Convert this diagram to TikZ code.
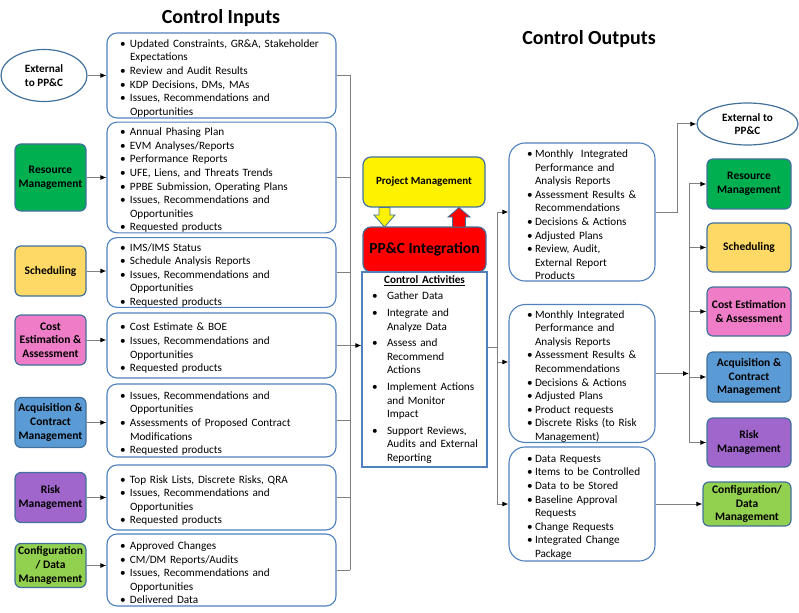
\documentclass[tikz,border=0pt]{standalone}
\usepackage{fontspec}
\setmainfont{Carlito}
\usetikzlibrary{arrows.meta,shapes.geometric}
\definecolor{bord}{HTML}{41719C}
\definecolor{lbord}{HTML}{4F81BD}
\definecolor{cres}{HTML}{00B050}
\definecolor{csch}{HTML}{FFD966}
\definecolor{ccost}{HTML}{EE7CC6}
\definecolor{cacq}{HTML}{5B9BD5}
\definecolor{crisk}{HTML}{A066CB}
\definecolor{ccfg}{HTML}{92D050}
\definecolor{lgray}{HTML}{808080}
\newlength\bulo
\newlength\bulw
\newcommand\itm[1]{\par\noindent\hangindent=\dimexpr\bulo+\bulw\relax\hangafter=1\hspace*{\bulo}\makebox[\bulw][l]{\textbullet}#1}
\newcommand\bodyfnt{\fontsize{11.2}{13.6}\selectfont}
\newcommand\lblfnt{\fontsize{11.5}{13.6}\selectfont\bfseries}
\begin{document}
\begin{tikzpicture}[x=1pt,y=-1pt,
  inbox/.style={draw=lbord, line width=1.1pt, rounded corners=10pt, fill=white,
    minimum width=229, text width=219, inner xsep=5, inner ysep=0, align=left, font=\bodyfnt,
    execute at begin node={\setlength\bulo{8pt}\setlength\bulw{10pt}}},
  outbox/.style={draw=lbord, line width=1.1pt, rounded corners=16pt, fill=white,
    minimum width=146, text width=122, inner xsep=12, inner ysep=0, align=left, font=\bodyfnt,
    execute at begin node={\setlength\bulo{6pt}\setlength\bulw{8pt}}},
  cabox/.style={draw=lbord, line width=1.1pt, fill=white,
    minimum width=125, text width=117, inner xsep=4, inner ysep=0, align=left, font=\bodyfnt,
    execute at begin node={\setlength\bulo{6pt}\setlength\bulw{15pt}\setlength\parskip{3pt}}},
  lbl/.style={draw=bord, line width=1.2pt, rounded corners=6pt, align=center, font=\lblfnt,
    inner sep=1pt},
  extn/.style={ellipse, draw=bord, line width=1.2pt, fill=white, align=center, inner sep=0pt,
    font=\fontsize{11.2}{13.6}\selectfont\bfseries},
  ln/.style={draw=lgray, line width=1pt},
  arr/.style={draw=lgray, line width=1pt, -{Latex[length=6pt,width=5pt,color=black]}}
]
\useasboundingbox (0,0) rectangle (799,612);

% titles
\node[font=\fontsize{20}{24}\selectfont\bfseries] (tin) at (221,18) {Control Inputs};
\node[font=\fontsize{20}{24}\selectfont\bfseries] (tout) at (589,39) {Control Outputs};

% left sources
\node[extn, minimum width=86, minimum height=52] (ext1) at (44,75.5) {External\\to PP\&C};
\node[lbl, fill=cres, minimum width=71, minimum height=67] (lres) at (50.5,177.5) {Resource\\Management};
\node[lbl, fill=csch, minimum width=71, minimum height=50] (lsch) at (50.5,271) {Scheduling};
\node[lbl, fill=ccost, minimum width=71, minimum height=50] (lcost) at (50.5,340) {Cost\\Estimation \&\\Assessment};
\node[lbl, fill=cacq, minimum width=71, minimum height=50] (lacq) at (50.5,422.5) {Acquisition \&\\Contract\\Management};
\node[lbl, fill=crisk, minimum width=71, minimum height=50] (lrisk) at (50.5,497.5) {Risk\\Management};
\node[lbl, fill=ccfg, minimum width=71, minimum height=44] (lcfg) at (50.5,565.5) {Configuration\\/ Data\\Management};

% input boxes
\node[inbox, minimum height=85] (i1) at (221.5,75.5) {%
\itm{Updated Constraints, GR\&A, Stakeholder\newline Expectations}
\itm{Review and Audit Results}
\itm{KDP Decisions, DMs, MAs}
\itm{Issues, Recommendations and\newline Opportunities}\par};
\node[inbox, minimum height=109] (i2) at (221.5,177.5) {%
\itm{Annual Phasing Plan}
\itm{EVM Analyses/Reports}
\itm{Performance Reports}
\itm{UFE, Liens, and Threats Trends}
\itm{PPBE Submission, Operating Plans}
\itm{Issues, Recommendations and\newline Opportunities}
\itm{Requested products}\par};
\node[inbox, minimum height=69] (i3) at (221.5,272.5) {%
\itm{IMS/IMS Status}
\itm{Schedule Analysis Reports}
\itm{Issues, Recommendations and\newline Opportunities}
\itm{Requested products}\par};
\node[inbox, minimum height=65] (i4) at (221.5,345.5) {%
\itm{Cost Estimate \& BOE}
\itm{Issues, Recommendations and\newline Opportunities}
\itm{Requested products}\par};
\node[inbox, minimum height=73] (i5) at (221.5,420.5) {%
\itm{Issues, Recommendations and\newline Opportunities}
\itm{Assessments of Proposed Contract\newline Modifications}
\itm{Requested products}\par};
\node[inbox, minimum height=65] (i6) at (221.5,497.5) {%
\itm{Top Risk Lists, Discrete Risks, QRA}
\itm{Issues, Recommendations and\newline Opportunities}
\itm{Requested products}\par};
\node[inbox, minimum height=72] (i7) at (221.5,570) {%
\itm{Approved Changes}
\itm{CM/DM Reports/Audits}
\itm{Issues, Recommendations and\newline Opportunities}
\itm{Delivered Data}\par};

% source arrows
\draw[arr] (ext1.east) -- (ext1.east -| i1.west);
\draw[arr] (lres.east) -- (lres.east -| i2.west);
\draw[arr] (lsch.east) -- (lsch.east -| i3.west);
\draw[arr] (lcost.east) -- (lcost.east -| i4.west);
\draw[arr] (lacq.east) -- (lacq.east -| i5.west);
\draw[arr] (lrisk.east) -- (lrisk.east -| i6.west);
\draw[arr] (lcfg.east) -- (lcfg.east -| i7.west);

% center
\node[lbl, fill=yellow, minimum width=122, minimum height=50, rounded corners=8pt,
  font=\fontsize{11}{13}\selectfont\bfseries] (pm) at (424,182) {Project Management};
\node[lbl, fill=red, minimum width=123, minimum height=45, rounded corners=8pt,
  font=\fontsize{15.5}{18}\selectfont\bfseries] (pi) at (424.5,249.5) {PP\&C Integration};
\node[cabox, minimum height=195] (ca) at (424.5,369.5) {%
{\centering\bfseries\underline{Control Activities}\par}
\itm{Gather Data}
\itm{Integrate and\newline Analyze Data}
\itm{Assess and\newline Recommend\newline Actions}
\itm{Implement Actions\newline and Monitor\newline Impact}
\itm{Support Reviews,\newline Audits and External\newline Reporting}\par};
\draw[draw=bord, fill=yellow, line width=0.8pt] (379,207.5) -- (390,207.5) -- (390,215) -- (395,215)
  -- (384.5,227) -- (374,215) -- (379,215) -- cycle;
\draw[draw=bord, fill=red, line width=0.8pt] (452.5,227) -- (452.5,217) -- (448,217) -- (459,207.5)
  -- (470,217) -- (465.5,217) -- (465.5,227) -- cycle;

% input bus
\coordinate (b1) at (350,345.5);
\foreach \n in {i1,i2,i3,i4,i5,i6,i7} \draw[ln] (\n.east) -- (\n.east -| b1);
\draw[ln] (i1.east -| b1) -- (i7.east -| b1);
\draw[arr] (b1) -- (b1 -| ca.west);

% outputs
\node[outbox, minimum height=138] (o1) at (582,212) {%
\itm{Monthly~ Integrated\newline Performance and\newline Analysis Reports}
\itm{Assessment Results \&\newline Recommendations}
\itm{Decisions \& Actions}
\itm{Adjusted Plans}
\itm{Review, Audit,\newline External Report\newline Products}\par};
\node[outbox, minimum height=133] (o2) at (582,373.5) {%
\itm{Monthly Integrated\newline Performance and\newline Analysis Reports}
\itm{Assessment Results \&\newline Recommendations}
\itm{Decisions \& Actions}
\itm{Adjusted Plans}
\itm{Product requests}
\itm{Discrete Risks (to Risk\newline Management)}\par};
\node[outbox, minimum height=114] (o3) at (582,504) {%
\itm{Data Requests}
\itm{Items to be Controlled}
\itm{Data to be Stored}
\itm{Baseline Approval\newline Requests}
\itm{Change Requests}
\itm{Integrated Change\newline Package}\par};

\coordinate (b2) at (497,347);
\coordinate (o2in) at (497,362);
\draw[ln] (b2 -| ca.east) -- (b2);
\draw[ln] (b2 |- o1.west) -- (b2 |- o3.west);
\draw[arr] (b2 |- o1.west) -- (o1.west);
\draw[arr] (o2in) -- (o2in -| o2.west);
\draw[arr] (b2 |- o3.west) -- (o3.west);

% right targets
\node[extn, minimum width=101, minimum height=42] (ext2) at (747.5,124) {External to\\PP\&C};
\node[lbl, fill=cres, minimum width=84, minimum height=50] (rres) at (749,184) {Resource\\Management};
\node[lbl, fill=csch, minimum width=84, minimum height=49] (rsch) at (749,247.5) {Scheduling};
\node[lbl, fill=ccost, minimum width=84, minimum height=49] (rcost) at (749,311.5) {Cost Estimation\\\& Assessment};
\node[lbl, fill=cacq, minimum width=84, minimum height=50] (racq) at (749,377) {Acquisition \&\\Contract\\Management};
\node[lbl, fill=crisk, minimum width=84, minimum height=49] (rrisk) at (749,442.5) {Risk\\Management};
\node[lbl, fill=ccfg, minimum width=88, minimum height=44] (rcfg) at (747,504) {Configuration/\\Data\\Management};

\coordinate (b3) at (677,123);
\draw[arr] (o1.east) -- (b3 |- o1.east) |- (ext2.west);
\coordinate (b4) at (689,373.5);
\draw[arr] (o2.east) -- (b4);
\draw[ln] (b4 |- rres.west) -- (b4 |- rrisk.west);
\foreach \n in {rres,rsch,rcost,racq,rrisk} \draw[arr] (b4 |- \n.west) -- (\n.west);
\draw[arr] (o3.east) -- (o3.east -| rcfg.west);
\end{tikzpicture}
\end{document}
